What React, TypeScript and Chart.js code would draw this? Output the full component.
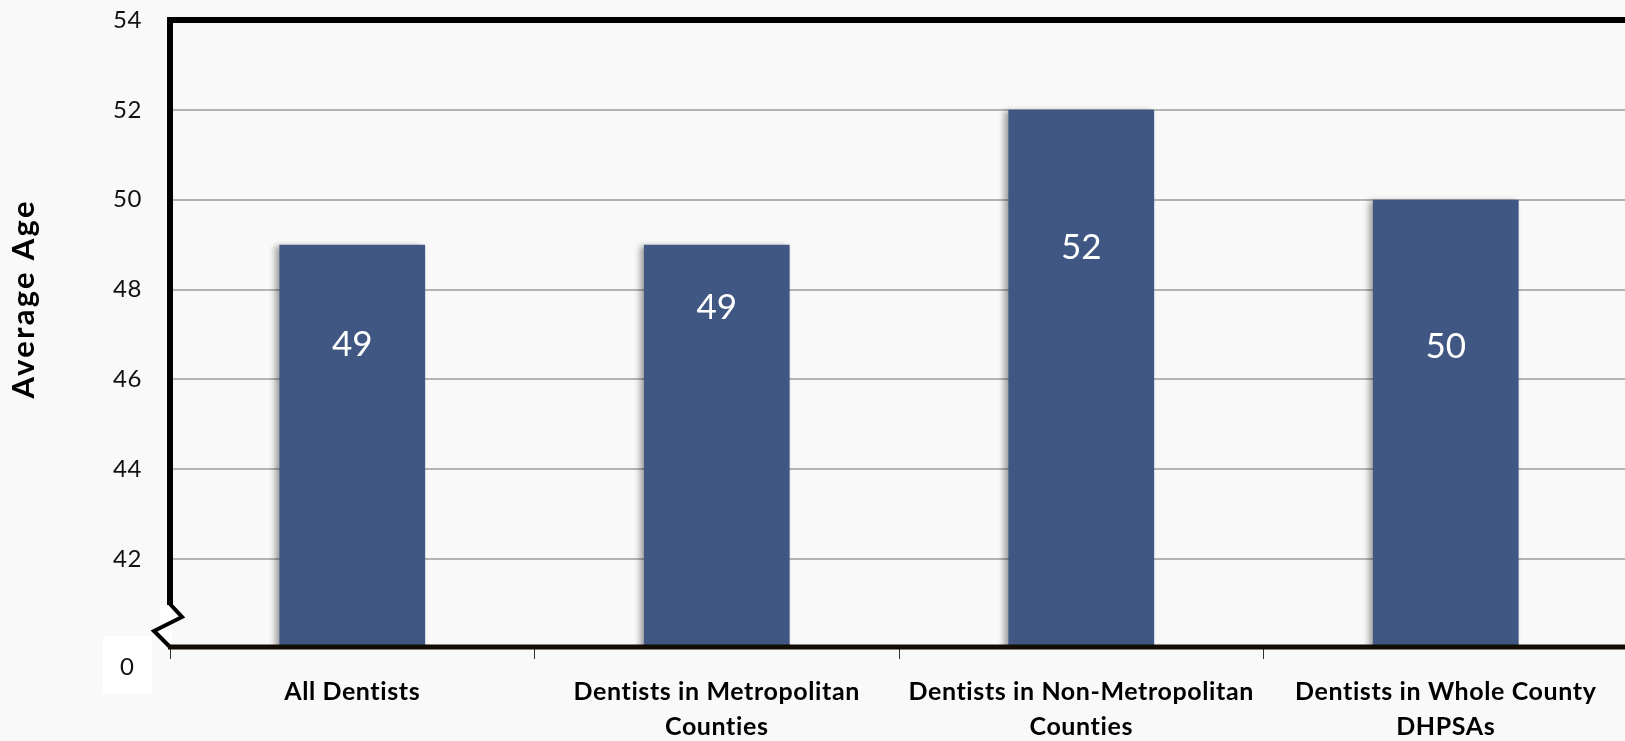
import React, { useEffect, useRef } from "react";
import { Chart, registerables } from "chart.js";

Chart.register(...registerables);

const categories: string[][] = [
  ["All Dentists"],
  ["Dentists in Metropolitan", "Counties"],
  ["Dentists in Non-Metropolitan", "Counties"],
  ["Dentists in Whole County", "DHPSAs"],
];
const averageAge: number[] = [49, 49, 52, 50];
const yTicks: number[] = [40, 42, 44, 46, 48, 50, 52, 54];
const brokenAxisLabel = "0";
const yTitle = "Average Age";

// where each value label sits inside its bar (axis units, style only)
const labelAnchor: number[] = [46.78, 47.6, 48.93, 46.73];

const BAR_COLOR = "#3F5782";
const BG = "#F9F9F9";

const decorPlugin = {
  id: "decor",
  beforeDraw(chart: any) {
    const ctx = chart.ctx;
    ctx.textRendering = "optimizeSpeed";
    ctx.letterSpacing = "0.6px";
  },
  beforeDatasetsDraw(chart: any) {
    const ctx = chart.ctx;
    ctx.save();
    ctx.shadowColor = "rgba(0,0,0,0.35)";
    ctx.shadowBlur = 6;
    ctx.shadowOffsetX = -4;
    ctx.shadowOffsetY = 1;
  },
  afterDatasetsDraw(chart: any) {
    const ctx = chart.ctx;
    ctx.restore();
    const meta = chart.getDatasetMeta(0);
    const y = chart.scales.y;
    ctx.save();
    ctx.letterSpacing = "0px";
    ctx.fillStyle = "#FFFFFF";
    ctx.font = "35px Lato";
    ctx.textAlign = "center";
    ctx.textBaseline = "middle";
    meta.data.forEach((bar: any, i: number) => {
      ctx.fillText(String(averageAge[i]), bar.x, y.getPixelForValue(labelAnchor[i]));
    });
    ctx.restore();
  },
  afterDraw(chart: any) {
    const ctx = chart.ctx;
    const { left, right, top, bottom } = chart.chartArea;
    ctx.save();
    ctx.letterSpacing = "0px";
    // top border
    ctx.strokeStyle = "#000";
    ctx.lineWidth = 6;
    ctx.beginPath();
    ctx.moveTo(left - 3, top);
    ctx.lineTo(right + 10, top);
    ctx.stroke();
    // left border down to the break
    ctx.beginPath();
    ctx.moveTo(left, top - 3);
    ctx.lineTo(left, bottom - 44);
    ctx.stroke();
    // white area behind break
    ctx.fillStyle = "#FFFFFF";
    ctx.fillRect(left - 10, bottom - 44, 12, 42);
    // zigzag
    ctx.lineWidth = 4;
    ctx.lineJoin = "miter";
    ctx.beginPath();
    ctx.moveTo(left, bottom - 45);
    ctx.lineTo(left + 12, bottom - 32);
    ctx.lineTo(left - 16, bottom - 18);
    ctx.lineTo(left, bottom - 2);
    ctx.stroke();
    // bottom axis
    ctx.strokeStyle = "#120C02";
    ctx.lineWidth = 5;
    ctx.beginPath();
    ctx.moveTo(left - 2, bottom - 2);
    ctx.lineTo(right + 10, bottom - 2);
    ctx.stroke();
    // "0" label in white box
    ctx.fillStyle = "#FFFFFF";
    ctx.fillRect(left - 67, bottom - 13, 49, 58);
    ctx.fillStyle = "#111";
    ctx.font = "24px Lato";
    ctx.textAlign = "center";
    ctx.textBaseline = "middle";
    ctx.fillText(brokenAxisLabel, left - 43, bottom + 18);
    // y title
    ctx.translate(34, 300);
    ctx.rotate(-Math.PI / 2);
    ctx.font = "bold 31px Lato";
    ctx.fillStyle = "#000";
    const w = ctx.measureText(yTitle).width;
    const spacing = Math.max(0, (197 - w) / (yTitle.length - 1));
    ctx.letterSpacing = spacing + "px";
    ctx.textAlign = "center";
    ctx.textBaseline = "alphabetic";
    ctx.fillText(yTitle, spacing / 2, 0);
    ctx.restore();
  },
};

export default function App() {
  const canvasRef = useRef<HTMLCanvasElement | null>(null);

  useEffect(() => {
    if (!canvasRef.current) return;
    const chart = new Chart(canvasRef.current, {
      type: "bar",
      data: {
        labels: categories,
        datasets: [
          {
            data: averageAge,
            backgroundColor: BAR_COLOR,
            borderWidth: 0,
            barPercentage: 0.4,
            categoryPercentage: 1,
          },
        ],
      },
      options: {
        animation: false,
        responsive: true,
        maintainAspectRatio: false,
        layout: { padding: { top: 20, right: 4, left: 0, bottom: 0 } },
        plugins: {
          legend: { display: false },
          tooltip: { enabled: false },
        },
        scales: {
          x: {
            offset: true,
            border: { display: false },
            grid: {
              display: true,
              offset: true,
              drawOnChartArea: false,
              drawTicks: true,
              tickLength: 10,
              tickColor: "#333",
              tickWidth: 1,
            },
            ticks: {
              color: "#000",
              font: { family: "Lato", size: 25, weight: "bold", lineHeight: 1.4 },
              padding: 15,
              maxRotation: 0,
              autoSkip: false,
            },
            afterFit(scale: any) {
              scale.height = 92;
              scale.paddingLeft = 0;
              scale.paddingRight = 0;
            },
          },
          y: {
            min: 40,
            max: 54,
            border: { display: false },
            grid: {
              color: (c: any) =>
                c.tick && (c.tick.value === 40 || c.tick.value === 54) ? "rgba(0,0,0,0)" : "#B4B4B4",
              lineWidth: 2,
              drawTicks: false,
            },
            afterBuildTicks(scale: any) {
              scale.ticks = yTicks.map((v) => ({ value: v }));
            },
            ticks: {
              color: "#111",
              font: { family: "Lato", size: 24 },
              padding: 28,
              callback: (v: any) => (v === 40 ? "" : String(v)),
            },
            afterFit(scale: any) {
              scale.width = 170;
              scale.paddingTop = 0;
              scale.paddingBottom = 0;
            },
          },
        },
      },
      plugins: [decorPlugin],
    });
    return () => chart.destroy();
  }, []);

  return (
    <div
      style={{
        position: "fixed",
        left: 0,
        top: 0,
        width: "1625px",
        height: "741px",
        overflow: "hidden",
        background: BG,
      }}
    >
      <div style={{ position: "absolute", left: 0, top: 0, width: "1632px", height: "741px" }}>
        <canvas ref={canvasRef} />
      </div>
    </div>
  );
}
